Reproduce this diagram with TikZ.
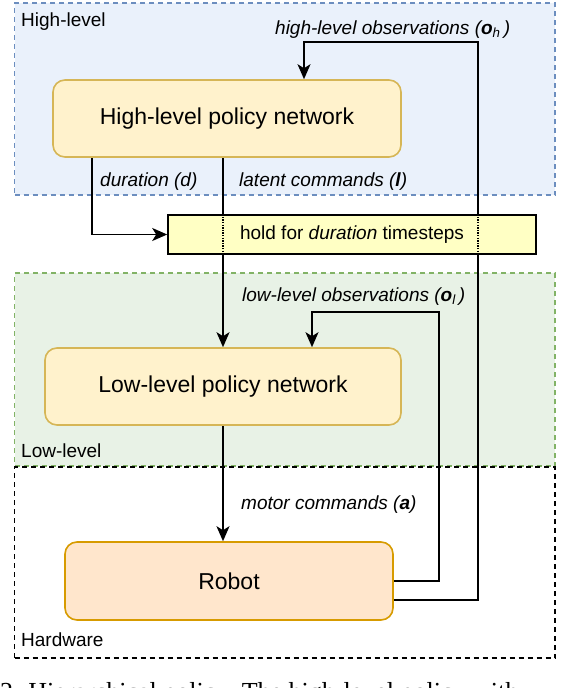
\documentclass[tikz,border=0pt]{standalone}
\usepackage{fontspec}
\setmainfont{Liberation Sans}
\newfontfamily\capfont{Liberation Serif}
\usetikzlibrary{arrows.meta}
\pgfdeclarelayer{bg}
\pgfdeclarelayer{lines}
\pgfsetlayers{bg,lines,main}
\definecolor{hlfill}{HTML}{EAF1FB}
\definecolor{hlline}{HTML}{6C8EBF}
\definecolor{llfill}{HTML}{E8F2E6}
\definecolor{llline}{HTML}{82B366}
\definecolor{polfill}{HTML}{FFF2CC}
\definecolor{polline}{HTML}{D6B656}
\definecolor{holdfill}{HTML}{FFFFC4}
\definecolor{robfill}{HTML}{FFE6CC}
\definecolor{robline}{HTML}{D79B00}
\begin{document}
\begin{tikzpicture}[x=1pt,y=-1pt,
  container/.style={line width=1.5pt, dash pattern=on 5pt off 4pt, inner sep=0pt,
    minimum width=540.5pt},
  policy/.style={draw=polline, fill=polfill, line width=1.6pt, rounded corners=12pt,
    inner sep=0pt, font=\fontsize{23}{27}\selectfont},
  holdbox/.style={draw=black, fill=holdfill, line width=1.6pt, inner sep=0pt,
    font=\fontsize{19}{22}\selectfont},
  conn/.style={line width=1.8pt, draw=black},
  arr/.style={conn, -{Stealth[length=15pt,width=13pt,inset=4pt]}},
  lbl/.style={font=\fontsize{19}{22}\selectfont\itshape, inner sep=0pt, anchor=base west},
  grouplbl/.style={font=\fontsize{19}{22}\selectfont, inner sep=0pt, anchor=base west},
  dottedline/.style={line width=1.3pt, dash pattern=on 1.3pt off 1.3pt},
]
\useasboundingbox (0,0) rectangle (568,688);

% group frames
\begin{pgfonlayer}{bg}
\node[container, draw=hlline, fill=hlfill, minimum height=192pt] (hlgrp) at (284.75,99) {};
\node[container, draw=llline, fill=llfill, minimum height=193pt] (llgrp) at (284.75,369.5) {};
\node[container, draw=black, minimum height=191pt] (hwgrp) at (284.75,562.5) {};
\end{pgfonlayer}

% main boxes
\node[policy, minimum width=348pt, minimum height=77pt] (hlp) at (227,118.5) {High-level policy network};
\node[policy, minimum width=356pt, minimum height=77pt] (llp) at (223,386.5) {Low-level policy network};
\node[policy, draw=robline, fill=robfill, minimum width=328pt, minimum height=78pt] (rob) at (229,581) {Robot};
\node[holdbox, minimum width=368pt, minimum height=39pt] (hold) at (352,234.5) {hold for \textit{duration} timesteps};

% helper coordinates
\coordinate (xdur) at (92,0);
\coordinate (xlat) at (223,0);
\coordinate (xhi) at (478,0);
\coordinate (lobend) at (439,312);
\coordinate (lotip) at (312,0);
\coordinate (hibend) at (478,42);
\coordinate (hitip) at (304,0);

% connectors
\begin{pgfonlayer}{lines}
\draw[arr] (xdur |- hlp.south) |- (hold.west);
\draw[arr] (xlat |- hlp.south) -- (xlat |- llp.north);
\draw[arr] (xlat |- llp.south) -- (xlat |- rob.north);
\draw[arr] (rob.east) -| (lobend) -| (lotip |- llp.north);
\draw[arr] ([yshift=-19pt]rob.east) -| (hibend) -| (hitip |- hlp.north);
\end{pgfonlayer}
\draw[dottedline] (xlat |- hold.north) -- (xlat |- hold.south);
\draw[dottedline] (xhi |- hold.north) -- (xhi |- hold.south);

% labels
\node[grouplbl] (lhl) at (21,27) {High-level};
\node[grouplbl] (lll) at (21,457) {Low-level};
\node[grouplbl] (lhw) at (21,646) {Hardware};
\node[lbl] (lobsh) at (275,34) {high-level observations (\textbf{o}\textsubscript{h}\,)};
\node[lbl] (ldur) at (100,186) {duration (d)};
\node[lbl] (llat) at (239,186) {latent commands (\textbf{l})};
\node[lbl] (lobsl) at (242,301) {low-level observations (\textbf{o}\textsubscript{l}\,)};
\node[lbl] (lmot) at (241,509) {motor commands (\textbf{a})};

% cut-off caption
\begin{scope}
\clip (0,0) rectangle (568,688);
\node[inner sep=0pt, anchor=base west, font=\capfont\fontsize{26}{30}\selectfont] (cap) at (0,700)
  {2. Hierarchical policy. The high-level policy with};
\end{scope}
\end{tikzpicture}
\end{document}
